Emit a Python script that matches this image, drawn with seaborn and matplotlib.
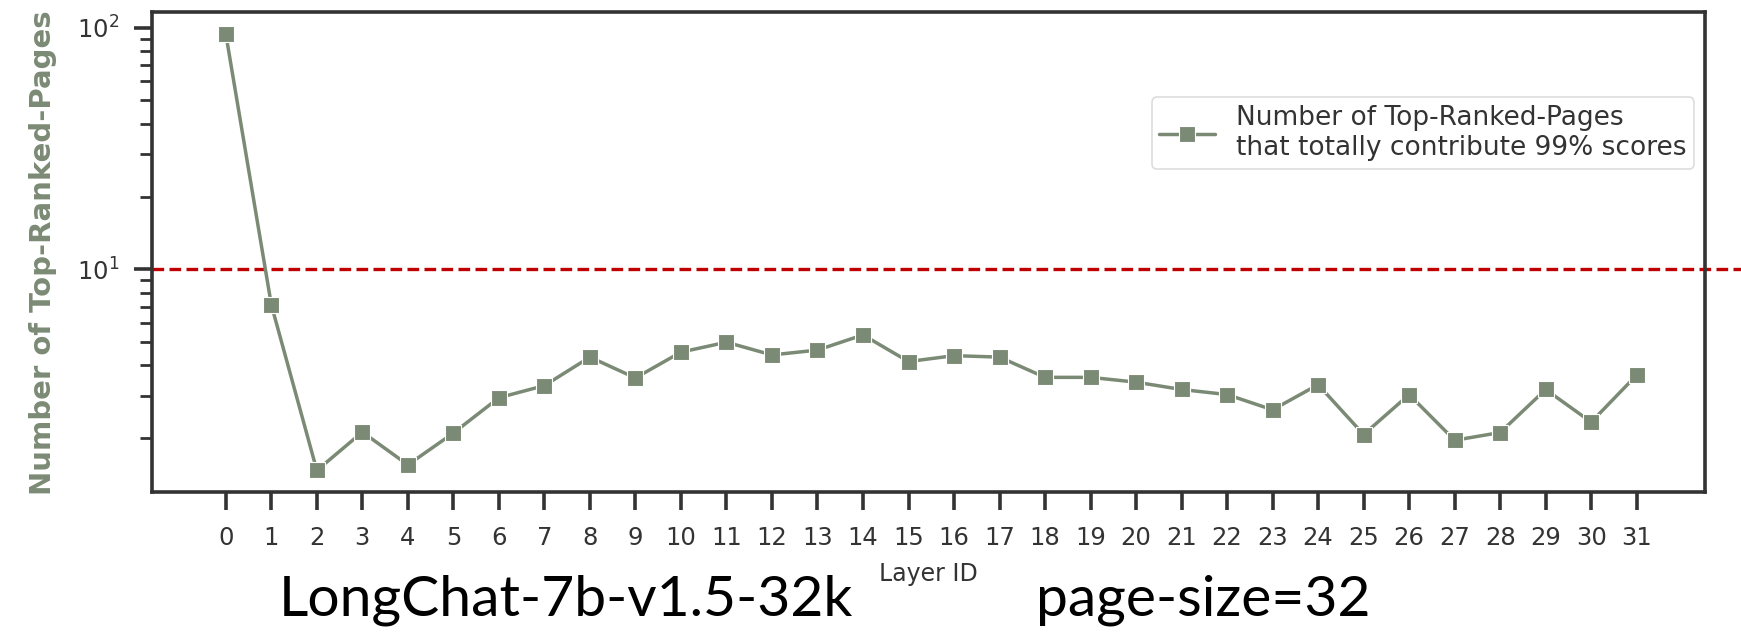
import matplotlib
matplotlib.use("Agg")
import matplotlib.pyplot as plt
import seaborn as sns
import pandas as pd

# Per-layer count of top-ranked pages whose scores sum to 99%
layers = list(range(32))
top_pages = [94.1, 7.13, 1.47, 2.12, 1.55, 2.10, 2.94, 3.30, 4.33, 3.55,
             4.54, 4.99, 4.42, 4.63, 5.35, 4.15, 4.39, 4.33, 3.57, 3.57,
             3.41, 3.18, 3.03, 2.62, 3.33, 2.07, 3.03, 1.96, 2.11, 3.18,
             2.33, 3.65]
threshold = 10
series_label = "Number of Top-Ranked-Pages\nthat totally contribute 99% scores"
y_label = "Number of Top-Ranked-Pages"
x_label = "Layer ID"
model_caption = "LongChat-7b-v1.5-32k"
page_caption = "page-size=32"

sns.set_theme(style="ticks")
plt.rcParams["font.family"] = ["DejaVu Sans"]

line_color = "#7b8a75"
dark = "#333333"

df = pd.DataFrame({"layer": layers, "pages": top_pages})

fig = plt.figure(figsize=(17.41, 6.36), dpi=100)
ax = fig.add_axes([0.0871, 0.226, 0.8922, 0.7547])

sns.lineplot(data=df, x="layer", y="pages", marker="s", color=line_color,
             markersize=12, linewidth=2.5, markeredgecolor="white",
             markeredgewidth=0.8, label=series_label, ax=ax)

ax.axhline(threshold, color="#c00000", linestyle=(0, (3.5, 1.6)), linewidth=2.4,
           xmin=0, xmax=1.025, clip_on=False, zorder=1)

ax.set_yscale("log")
ax.set_xticks(layers)
ax.set_xticklabels([str(l) for l in layers])
ax.set_xlim(-1.63, 32.5)

for side in ax.spines.values():
    side.set_color(dark)
    side.set_linewidth(2.6)

ax.tick_params(axis="both", which="major", length=13, width=2.6, color=dark,
               labelcolor=dark, labelsize=17.5)
ax.tick_params(axis="x", which="major", pad=11)
ax.tick_params(axis="y", which="major", pad=10)
ax.tick_params(axis="y", which="minor", length=8.5, width=2.0, color=dark)

ax.set_xlabel(x_label, fontsize=17, color=dark, labelpad=9)
ax.set_ylabel(y_label, fontsize=21, fontweight="bold", color=line_color,
              labelpad=15)

leg = ax.legend(loc="upper right", bbox_to_anchor=(1.0, 0.845), fontsize=19,
                frameon=True, fancybox=True, handlelength=2.1,
                borderpad=0.3, handletextpad=0.8, borderaxespad=0.4)
leg.get_frame().set_edgecolor("#d4d4d4")
leg.get_frame().set_linewidth(1.2)
for t in leg.get_texts():
    t.set_color(dark)

fig.text(279 / 1741, 1 - 615 / 636, model_caption, fontsize=41,
         family=["Lato", "DejaVu Sans"], color="black", va="baseline")
fig.text(1036 / 1741, 1 - 615 / 636, page_caption, fontsize=41,
         family=["Lato", "DejaVu Sans"], color="black", va="baseline")

fig.savefig("out.png", dpi=100, facecolor="white")
